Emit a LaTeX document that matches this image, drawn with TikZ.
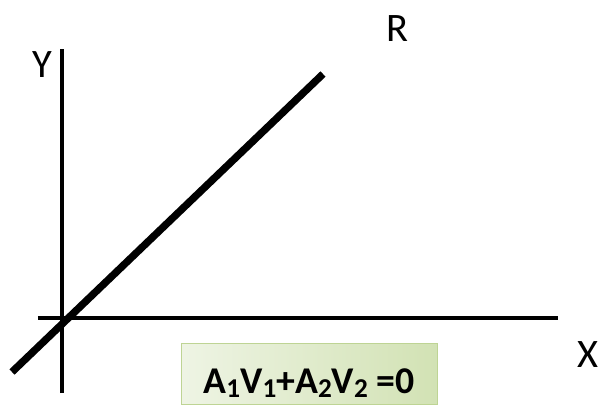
\documentclass[tikz,border=0pt]{standalone}
\usepackage{fontspec}
\setmainfont{Carlito}
\usetikzlibrary{positioning}
\definecolor{boxgreen}{RGB}{190, 212, 148}
\definecolor{boxlight}{RGB}{238, 244, 228}
\definecolor{boxdark}{RGB}{210, 226, 180}
\newcommand{\lowd}[1]{\raisebox{-0.25ex}{\scalebox{0.72}{#1}}}

\tikzset{
  axisline/.style={line width=1.9pt},
  rline/.style={line width=4.2pt},
  axislabel/.style={font=\fontsize{23}{27}\selectfont, inner sep=0pt},
  eqbox/.style={draw=boxgreen, line width=1pt, left color=boxlight, right color=boxdark,
    minimum width=5.12cm, minimum height=1.22cm, inner sep=0pt},
}

\begin{document}
\begin{tikzpicture}[x=0.02cm, y=-0.02cm]
        \useasboundingbox (0,0) rectangle (600,410);
        \coordinate (ybot) at (62,393);
        \coordinate (ytop) at (62,49);
        \coordinate (xleft) at (38,318);
        \coordinate (xright) at (558,318);
        \coordinate (rlow) at (12,372);
        \coordinate (rhigh) at (323,74);

        \draw[axisline] (ybot) -- (ytop);
        \draw[axisline] (xleft) -- (xright);
        \draw[rline] (rlow) -- (rhigh);

        \node[axislabel] (ylabel) at (42,65) {Y};
        \node[axislabel] (rlabel) at (397,29) {R};
        \node[axislabel] (xlabel) at (588,355) {X};

        \node[eqbox] (eq) at (309.5,374) {};
        \node[font=\bfseries\fontsize{21.5}{25}\selectfont, anchor=base, inner sep=0pt]
          (eqtext) at (309,393) {A\lowd{1}V\lowd{1}+A\lowd{2}V\lowd{2} =0};
    \end{tikzpicture}
\end{document}
